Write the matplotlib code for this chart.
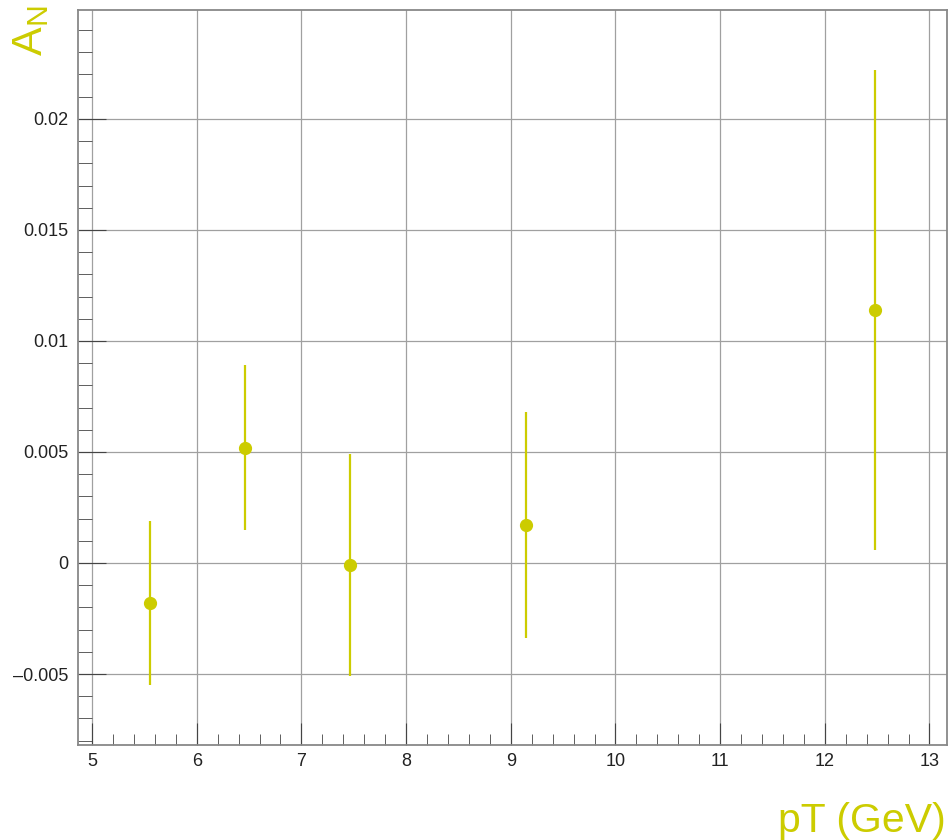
import numpy as np
import matplotlib.pyplot as plt
from matplotlib.ticker import MultipleLocator, FuncFormatter

plt.rcParams["font.family"] = ["Liberation Sans", "DejaVu Sans"]

pt = [5.55, 6.46, 7.46, 9.15, 12.48]
an = [-0.0018, 0.0052, -0.0001, 0.0017, 0.0114]
an_err = [0.0037, 0.0037, 0.0050, 0.0051, 0.0108]

col = "#cccc00"

fig = plt.figure(figsize=(9.52, 8.4), dpi=100)
ax = fig.add_axes([0.082, 0.113, 0.913, 0.875])

ax.errorbar(pt, an, yerr=an_err, fmt="o", color=col, ms=8.5, elinewidth=1.6,
            capsize=0, zorder=3)

ax.set_xlim(4.866, 13.17)
ax.set_ylim(-0.0082, 0.0249)

ax.xaxis.set_major_locator(MultipleLocator(1))
ax.xaxis.set_minor_locator(MultipleLocator(0.2))
ax.yaxis.set_major_locator(MultipleLocator(0.005))
ax.yaxis.set_minor_locator(MultipleLocator(0.001))


def yfmt(v, p):
    s = "%g" % round(v, 4)
    return s.replace("-", "\u2013")


ax.yaxis.set_major_formatter(FuncFormatter(yfmt))

ax.grid(True, which="major", color="#a0a0a0", lw=0.9)
ax.tick_params(which="both", direction="in", color="#444444", labelsize=13,
               labelcolor="#222222", top=False, right=False)
ax.tick_params(axis="x", which="major", length=16, pad=6)
ax.tick_params(axis="x", which="minor", length=8)
ax.tick_params(axis="y", which="major", length=20, pad=7)
ax.tick_params(axis="y", which="minor", length=10)

for s in ax.spines.values():
    s.set_color("#888888")
    s.set_linewidth(1.3)

fig.text(0.993, 0.0, "pT (GeV)", color=col, fontsize=29.5, ha="right", va="bottom")
fig.text(0.012, 0.993, r"A$_{\mathregular{N}}$", color=col, fontsize=31,
         rotation=90, ha="left", va="top")

plt.savefig("out.png")
